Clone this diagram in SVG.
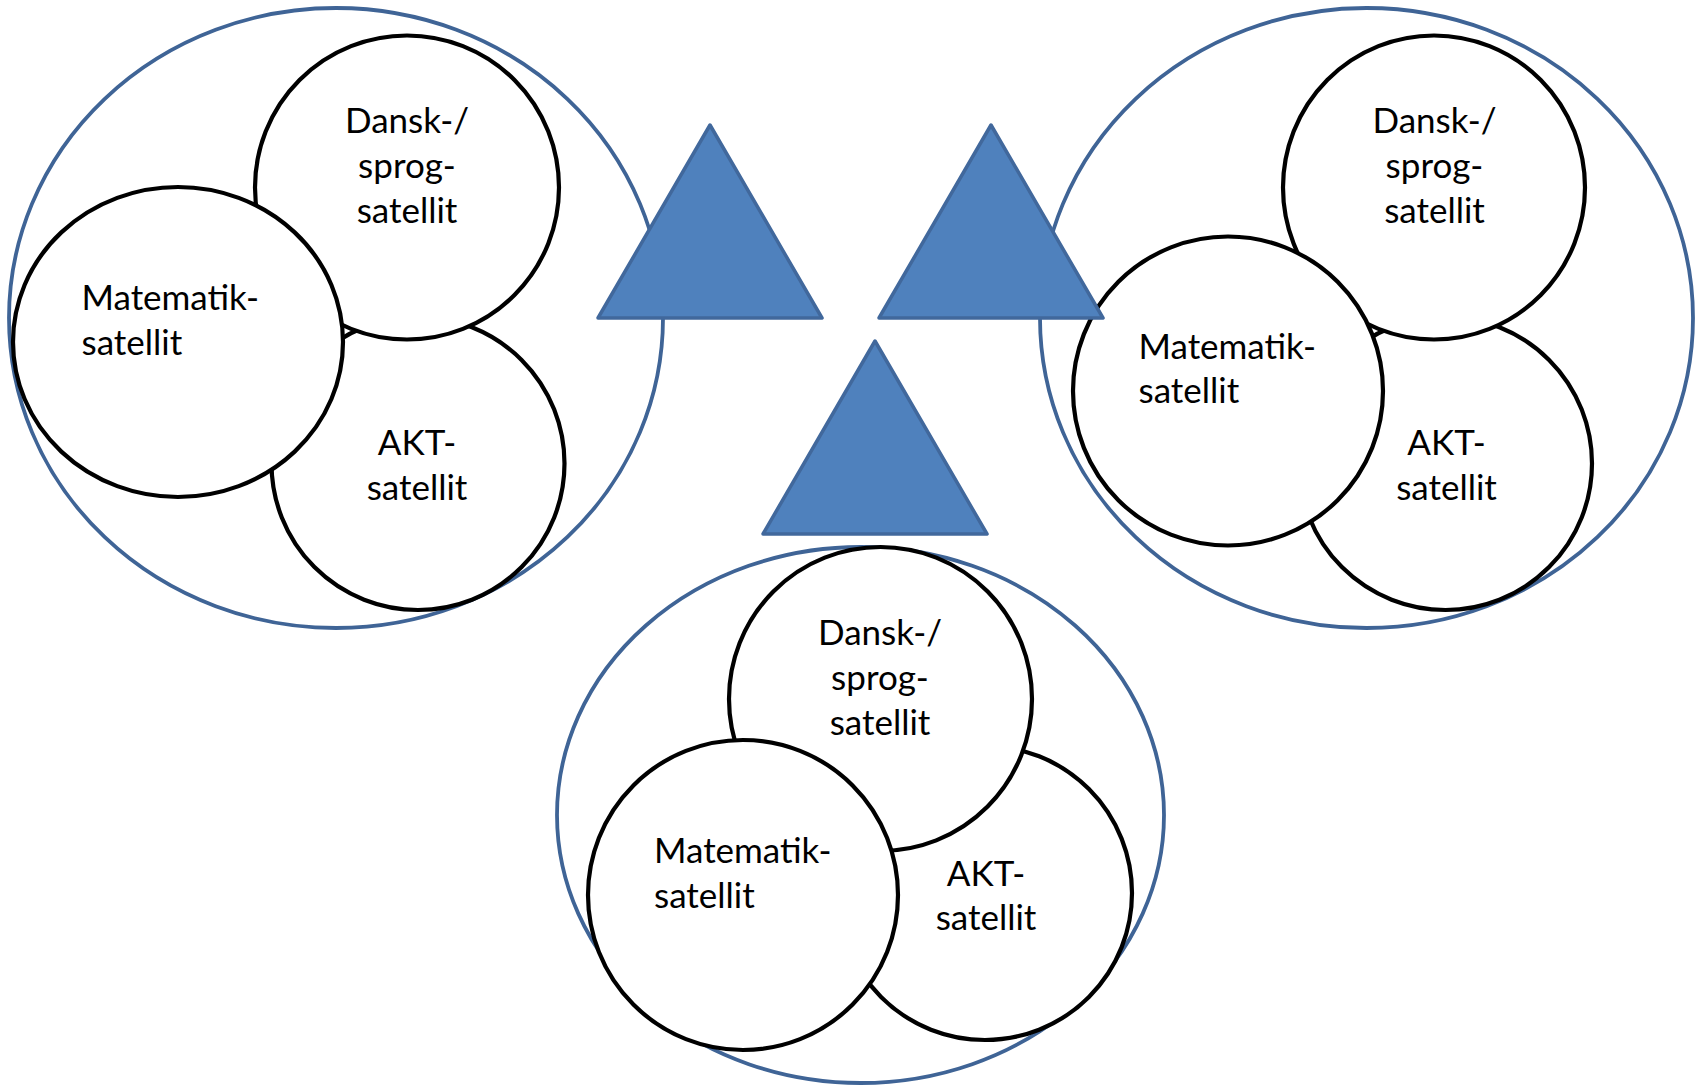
<svg xmlns="http://www.w3.org/2000/svg" width="1702" height="1086" viewBox="0 0 1702 1086">
<style>
.outer{fill:#ffffff;stroke:#3F6496;stroke-width:3.8}
.sat{fill:#ffffff;stroke:#000000;stroke-width:4.2}
.tri{fill:#4F81BD;stroke:#41689C;stroke-width:3.5;stroke-linejoin:round}
text{font-family:Lato,"Open Sans","Liberation Sans",sans-serif;font-size:35px;fill:#000000}
.c{text-anchor:middle}
</style>
<rect width="1702" height="1086" fill="#ffffff"/>
<g id="cluster-left">
  <ellipse class="outer" cx="336" cy="318" rx="327" ry="310"/>
  <g id="left-akt">
    <ellipse class="sat" cx="418" cy="463.5" rx="146.5" ry="146.5"/>
    <text class="c" x="417" y="455">AKT-</text>
    <text class="c" x="417" y="499.5">satellit</text>
  </g>
  <g id="left-dansk">
    <ellipse class="sat" cx="407" cy="187.5" rx="152" ry="152"/>
    <text class="c" x="407" y="133">Dansk-/</text>
    <text class="c" x="407" y="178">sprog-</text>
    <text class="c" x="407" y="223">satellit</text>
  </g>
  <g id="left-matematik">
    <ellipse class="sat" cx="178" cy="342" rx="165" ry="155"/>
    <text x="81.5" y="310">Matematik-</text>
    <text x="81.5" y="355">satellit</text>
  </g>
</g>
<g id="cluster-right">
  <ellipse class="outer" cx="1366.5" cy="318" rx="326.5" ry="310"/>
  <g id="right-akt">
    <ellipse class="sat" cx="1445.5" cy="463.5" rx="146.5" ry="146.5"/>
    <text class="c" x="1446.5" y="455">AKT-</text>
    <text class="c" x="1446.5" y="499.5">satellit</text>
  </g>
  <g id="right-dansk">
    <ellipse class="sat" cx="1434" cy="187.5" rx="151" ry="152"/>
    <text class="c" x="1434.5" y="133">Dansk-/</text>
    <text class="c" x="1434.5" y="178">sprog-</text>
    <text class="c" x="1434.5" y="223">satellit</text>
  </g>
  <g id="right-matematik">
    <ellipse class="sat" cx="1228" cy="391" rx="155" ry="154.5"/>
    <text x="1138.5" y="358.5">Matematik-</text>
    <text x="1138.5" y="403">satellit</text>
  </g>
</g>
<g id="cluster-bottom">
  <ellipse class="outer" cx="860.5" cy="815" rx="303.5" ry="268"/>
  <g id="bottom-akt">
    <ellipse class="sat" cx="985" cy="893" rx="147" ry="147"/>
    <text class="c" x="986" y="886">AKT-</text>
    <text class="c" x="986" y="930">satellit</text>
  </g>
  <g id="bottom-dansk">
    <ellipse class="sat" cx="880.5" cy="699" rx="151.5" ry="152"/>
    <text class="c" x="880" y="645">Dansk-/</text>
    <text class="c" x="880" y="690">sprog-</text>
    <text class="c" x="880" y="735">satellit</text>
  </g>
  <g id="bottom-matematik">
    <ellipse class="sat" cx="743" cy="895" rx="155" ry="155"/>
    <text x="654" y="863">Matematik-</text>
    <text x="654" y="908">satellit</text>
  </g>
</g>
<g id="triangle-left">
  <polygon class="tri" points="710,125 822,318 598,318"/>
</g>
<g id="triangle-right">
  <polygon class="tri" points="991,125 1103,318 879,318"/>
</g>
<g id="triangle-bottom">
  <polygon class="tri" points="875,341 987,534 763,534"/>
</g>
<g id="connectors"/>
</svg>
